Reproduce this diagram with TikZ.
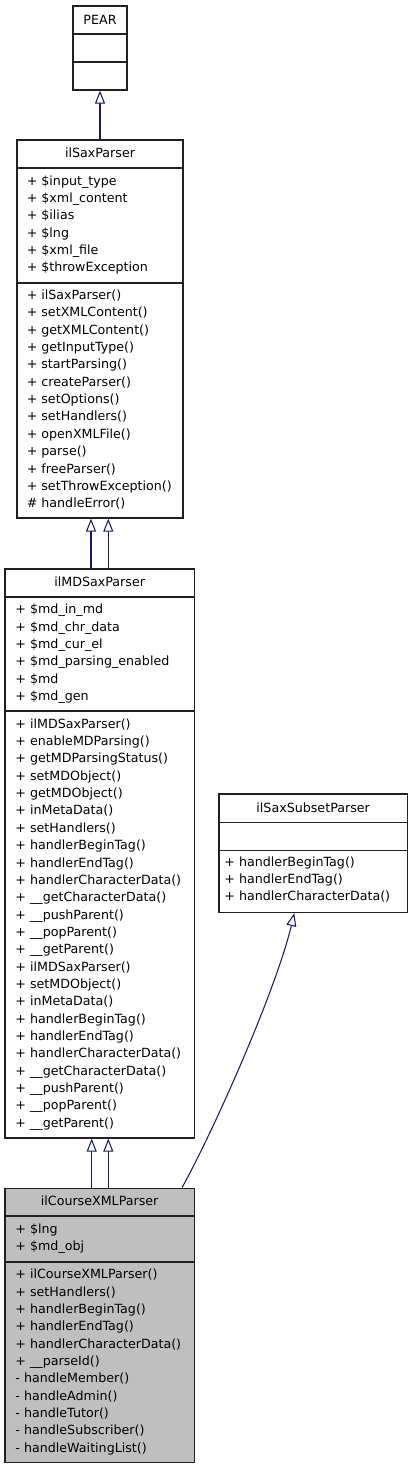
\documentclass[tikz,border=0pt]{standalone}
\usepackage{fontspec}
\setmainfont{DejaVu Sans}
\usetikzlibrary{arrows.meta}
\definecolor{edgeblue}{HTML}{191970}
\definecolor{clsgray}{HTML}{BFBFBF}
\definecolor{boxline}{HTML}{202020}
\tikzset{
  box/.style={draw=boxline, line width=0.95pt, inner sep=0pt, fill=white},
  divider/.style={draw=boxline, line width=0.95pt},
  txt/.style={font=\fontsize{9.5}{12}\selectfont, inner sep=0pt, text=black},
  inh/.style={draw=edgeblue, line width=0.8pt, -{Triangle[length=9.75pt,width=7.5pt,fill=white]}},
}
\begin{document}
\begin{tikzpicture}[x=0.75pt,y=-0.75pt]
\useasboundingbox (0,0) rectangle (413,1469);

% ---------- PEAR ----------
\node[box, minimum width=40.5pt, minimum height=63pt] (pear) at (100,48) {};
\draw[divider] (pear.west |- 0,34) -- (pear.east |- 0,34);
\draw[divider] (pear.west |- 0,62) -- (pear.east |- 0,62);
\node[txt, anchor=base] (pearT) at (100,24.5) {PEAR};

% ---------- ilSaxParser ----------
\node[box, minimum width=124.5pt, minimum height=283.5pt] (sp) at (100,329) {};
\draw[divider] (sp.west |- 0,168) -- (sp.east |- 0,168);
\draw[divider] (sp.west |- 0,283) -- (sp.east |- 0,283);
\node[txt, anchor=base] (spT) at (100,157.5) {ilSaxParser};
\foreach \t [count=\i from 0] in {{+ \$input\_type},{+ \$xml\_content},{+ \$ilias},{+ \$lng},{+ \$xml\_file},{+ \$throwException}}
  \node[txt, anchor=base west] (spa\i) at (26.5,{185.2+\i*17.33}) {\t};
\foreach \t [count=\i from 0] in {{+ ilSaxParser()},{+ setXMLContent()},{+ getXMLContent()},{+ getInputType()},{+ startParsing()},{+ createParser()},{+ setOptions()},{+ setHandlers()},{+ openXMLFile()},{+ parse()},{+ freeParser()},{+ setThrowException()},{\# handleError()}}
  \node[txt, anchor=base west] (spm\i) at (26.5,{299.5+\i*17.35}) {\t};

% ---------- ilMDSaxParser ----------
\node[box, minimum width=142pt, minimum height=426.75pt] (md) at (99.65,853.5) {};
\draw[divider] (md.west |- 0,597) -- (md.east |- 0,597);
\draw[divider] (md.west |- 0,711) -- (md.east |- 0,711);
\node[txt, anchor=base] (mdT) at (99.65,586.5) {ilMDSaxParser};
\foreach \t [count=\i from 0] in {{+ \$md\_in\_md},{+ \$md\_chr\_data},{+ \$md\_cur\_el},{+ \$md\_parsing\_enabled},{+ \$md},{+ \$md\_gen}}
  \node[txt, anchor=base west] (mda\i) at (15.2,{613.8+\i*17.33}) {\t};
\foreach \t [count=\i from 0] in {{+ ilMDSaxParser()},{+ enableMDParsing()},{+ getMDParsingStatus()},{+ setMDObject()},{+ getMDObject()},{+ inMetaData()},{+ setHandlers()},{+ handlerBeginTag()},{+ handlerEndTag()},{+ handlerCharacterData()},{+ \_\_getCharacterData()},{+ \_\_pushParent()},{+ \_\_popParent()},{+ \_\_getParent()},{+ ilMDSaxParser()},{+ setMDObject()},{+ inMetaData()},{+ handlerBeginTag()},{+ handlerEndTag()},{+ handlerCharacterData()},{+ \_\_getCharacterData()},{+ \_\_pushParent()},{+ \_\_popParent()},{+ \_\_getParent()}}
  \node[txt, anchor=base west] (mdm\i) at (15.2,{728.2+\i*17.35}) {\t};

% ---------- ilSaxSubsetParser ----------
\node[box, minimum width=141.2pt, minimum height=88.9pt] (sub) at (313.15,853.25) {};
\draw[divider] (sub.west |- 0,822.3) -- (sub.east |- 0,822.3);
\draw[divider] (sub.west |- 0,850.3) -- (sub.east |- 0,850.3);
\node[txt, anchor=base] (subT) at (313.15,812.8) {ilSaxSubsetParser};
\foreach \t [count=\i from 0] in {{+ handlerBeginTag()},{+ handlerEndTag()},{+ handlerCharacterData()}}
  \node[txt, anchor=base west] (subm\i) at (224.2,{866.2+\i*17.35}) {\t};

% ---------- ilCourseXMLParser ----------
\node[box, fill=clsgray, minimum width=142pt, minimum height=205.5pt] (cx) at (99.65,1325.3) {};
\draw[divider] (cx.west |- 0,1216) -- (cx.east |- 0,1216);
\draw[divider] (cx.west |- 0,1262) -- (cx.east |- 0,1262);
\node[txt, anchor=base] (cxT) at (99.65,1205.2) {ilCourseXMLParser};
\foreach \t [count=\i from 0] in {{+ \$lng},{+ \$md\_obj}}
  \node[txt, anchor=base west] (cxa\i) at (15.2,{1233.2+\i*17.33}) {\t};
\foreach \t [count=\i from 0] in {{+ ilCourseXMLParser()},{+ setHandlers()},{+ handlerBeginTag()},{+ handlerEndTag()},{+ handlerCharacterData()},{+ \_\_parseId()},{- handleMember()},{- handleAdmin()},{- handleTutor()},{- handleSubscriber()},{- handleWaitingList()}}
  \node[txt, anchor=base west] (cxm\i) at (15.2,{1278.8+\i*17.33}) {\t};

% ---------- inheritance edges ----------
\draw[inh] (sp.north) -- (pear.south);
\draw[inh] (md.north -| 91,0) -- (sp.south -| 91,0);
\draw[inh] (md.north -| 108.3,0) -- (sp.south -| 108.3,0);
\draw[inh] (cx.north -| 91.7,0) -- (md.south -| 91.7,0);
\draw[inh] (cx.north -| 108.3,0) -- (md.south -| 108.3,0);
\draw[inh] (cx.north -| 182,0) .. controls (214,1130) and (276,990) .. (sub.south -| 294.3,0);
\end{tikzpicture}
\end{document}
